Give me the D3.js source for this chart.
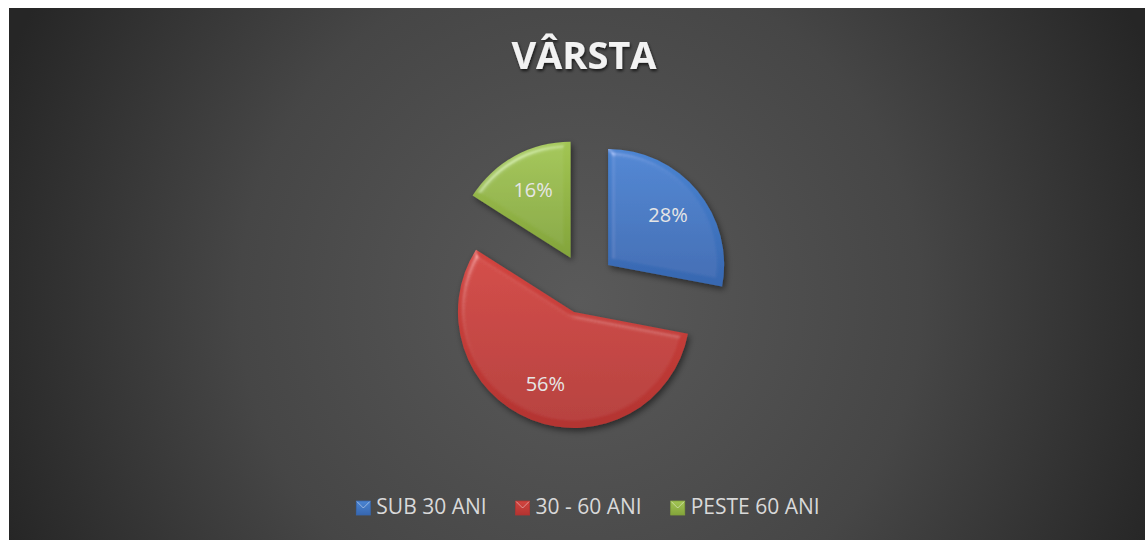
<!DOCTYPE html>
<html>
<head>
<meta charset="utf-8">
<script src="https://cdn.jsdelivr.net/npm/d3@7"></script>
<style>
  html, body { margin: 0; padding: 0; background: #fff; }
  svg { display: block; }
  text { font-family: "Open Sans", "Noto Sans", sans-serif; }
</style>
</head>
<body>
<div id="chart"></div>
<script>
const categories = ['SUB 30 ANI', '30 - 60 ANI', 'PESTE 60 ANI'];
const values = [28, 56, 16];
const labels = ['28%', '56%', '16%'];
const colorsTop = ['#4a84d2', '#d2443f', '#a2c553'];
const colorsBottom = ['#3767b0', '#b33431', '#83a43b'];

const width = 1145, height = 540;
const cx = 585, cy = 284, radius = 116, explode = 30;

const svg = d3.select('#chart')
  .append('svg')
  .attr('width', width)
  .attr('height', height);

const defs = svg.append('defs');

const bg = defs.append('radialGradient')
  .attr('id', 'bg')
  .attr('gradientUnits', 'userSpaceOnUse')
  .attr('cx', 580).attr('cy', 300).attr('r', 620);
bg.append('stop').attr('offset', '0%').attr('stop-color', '#5a5a5a');
bg.append('stop').attr('offset', '55%').attr('stop-color', '#464646');
bg.append('stop').attr('offset', '100%').attr('stop-color', '#262626');

categories.forEach((c, i) => {
  const g = defs.append('linearGradient')
    .attr('id', 'fill' + i)
    .attr('x1', 0).attr('y1', 0).attr('x2', 0).attr('y2', 1);
  g.append('stop').attr('offset', '0%').attr('stop-color', colorsTop[i]);
  g.append('stop').attr('offset', '100%').attr('stop-color', colorsBottom[i]);
});

// bevel + shadow
const bevel = defs.append('filter')
  .attr('id', 'bevel')
  .attr('x', '-20%').attr('y', '-20%').attr('width', '140%').attr('height', '140%');
bevel.append('feGaussianBlur').attr('in', 'SourceAlpha').attr('stdDeviation', 3).attr('result', 'blur');
const spec = bevel.append('feSpecularLighting')
  .attr('in', 'blur').attr('surfaceScale', 4).attr('specularConstant', 0.6)
  .attr('specularExponent', 25).attr('lighting-color', '#ffffff').attr('result', 'spec');
spec.append('feDistantLight').attr('azimuth', 235).attr('elevation', 40);
bevel.append('feComposite').attr('in', 'spec').attr('in2', 'SourceAlpha').attr('operator', 'in').attr('result', 'specIn');
bevel.append('feComposite').attr('in', 'SourceGraphic').attr('in2', 'specIn')
  .attr('operator', 'arithmetic').attr('k1', 0).attr('k2', 1).attr('k3', 0.4).attr('k4', 0).attr('result', 'lit');
bevel.append('feOffset').attr('in', 'SourceAlpha').attr('dx', 2).attr('dy', 3).attr('result', 'off');
bevel.append('feGaussianBlur').attr('in', 'off').attr('stdDeviation', 3).attr('result', 'offBlur');
bevel.append('feFlood').attr('flood-color', '#000').attr('flood-opacity', 0.5);
bevel.append('feComposite').attr('in2', 'offBlur').attr('operator', 'in').attr('result', 'shadow');
const merge = bevel.append('feMerge');
merge.append('feMergeNode').attr('in', 'shadow');
merge.append('feMergeNode').attr('in', 'lit');

const textShadow = defs.append('filter').attr('id', 'tshadow')
  .attr('x', '-10%').attr('y', '-20%').attr('width', '120%').attr('height', '150%');
textShadow.append('feDropShadow').attr('dx', 1).attr('dy', 2).attr('stdDeviation', 1.5)
  .attr('flood-color', '#000').attr('flood-opacity', 0.7);

svg.append('rect')
  .attr('x', 9).attr('y', 8)
  .attr('width', width - 9).attr('height', height - 8)
  .attr('fill', 'url(#bg)');

// title
svg.append('text')
  .attr('x', 584).attr('y', 69)
  .attr('text-anchor', 'middle')
  .attr('font-size', 38)
  .attr('font-weight', 700)
  .attr('fill', '#f2f2f2')
  .attr('filter', 'url(#tshadow)')
  .text('VÂRSTA');

const pie = d3.pie().sort(null).value(d => d);
const arcs = pie(values);
const arc = d3.arc().innerRadius(0).outerRadius(radius);

const slices = svg.append('g')
  .attr('transform', `translate(${cx},${cy})`)
  .selectAll('g')
  .data(arcs)
  .join('g')
  .attr('transform', d => {
    const a = (d.startAngle + d.endAngle) / 2;
    return `translate(${Math.sin(a) * explode},${-Math.cos(a) * explode})`;
  });

slices.append('path')
  .attr('d', arc)
  .attr('fill', (d, i) => `url(#fill${i})`)
  .attr('filter', 'url(#bevel)');

slices.append('text')
  .attr('transform', d => {
    const a = (d.startAngle + d.endAngle) / 2;
    const r = radius * 0.67;
    return `translate(${Math.sin(a) * r},${-Math.cos(a) * r})`;
  })
  .attr('text-anchor', 'middle')
  .attr('dy', '0.35em')
  .attr('font-size', 20)
  .attr('fill', '#e6e6e6')
  .text((d, i) => labels[i]);

// legend
const legend = svg.append('g');
const items = legend.selectAll('g')
  .data(categories)
  .join('g');

items.append('rect')
  .attr('width', 14).attr('height', 14)
  .attr('y', -13)
  .attr('fill', (d, i) => `url(#fill${i})`)
  .attr('stroke', (d, i) => colorsBottom[i])
  .attr('stroke-width', 0.8);

items.append('path')
  .attr('d', 'M0.5,-12.5 L7,-6 L13.5,-12.5')
  .attr('fill', 'none')
  .attr('stroke', 'rgba(255,255,255,0.45)')
  .attr('stroke-width', 1);

items.append('text')
  .attr('x', 20)
  .attr('y', 0)
  .attr('font-size', 21)
  .attr('fill', '#d9d9d9')
  .text(d => d);

let pos = 0;
const widths = [];
items.each(function () {
  const w = 20 + d3.select(this).select('text').node().getComputedTextLength();
  widths.push(w);
});
const gap = 29;
const total = d3.sum(widths) + gap * (widths.length - 1);
const startX = 588 - total / 2;
items.attr('transform', (d, i) => {
  const x = startX + pos;
  pos += widths[i] + gap;
  return `translate(${x},514)`;
});
</script>
</body>
</html>
